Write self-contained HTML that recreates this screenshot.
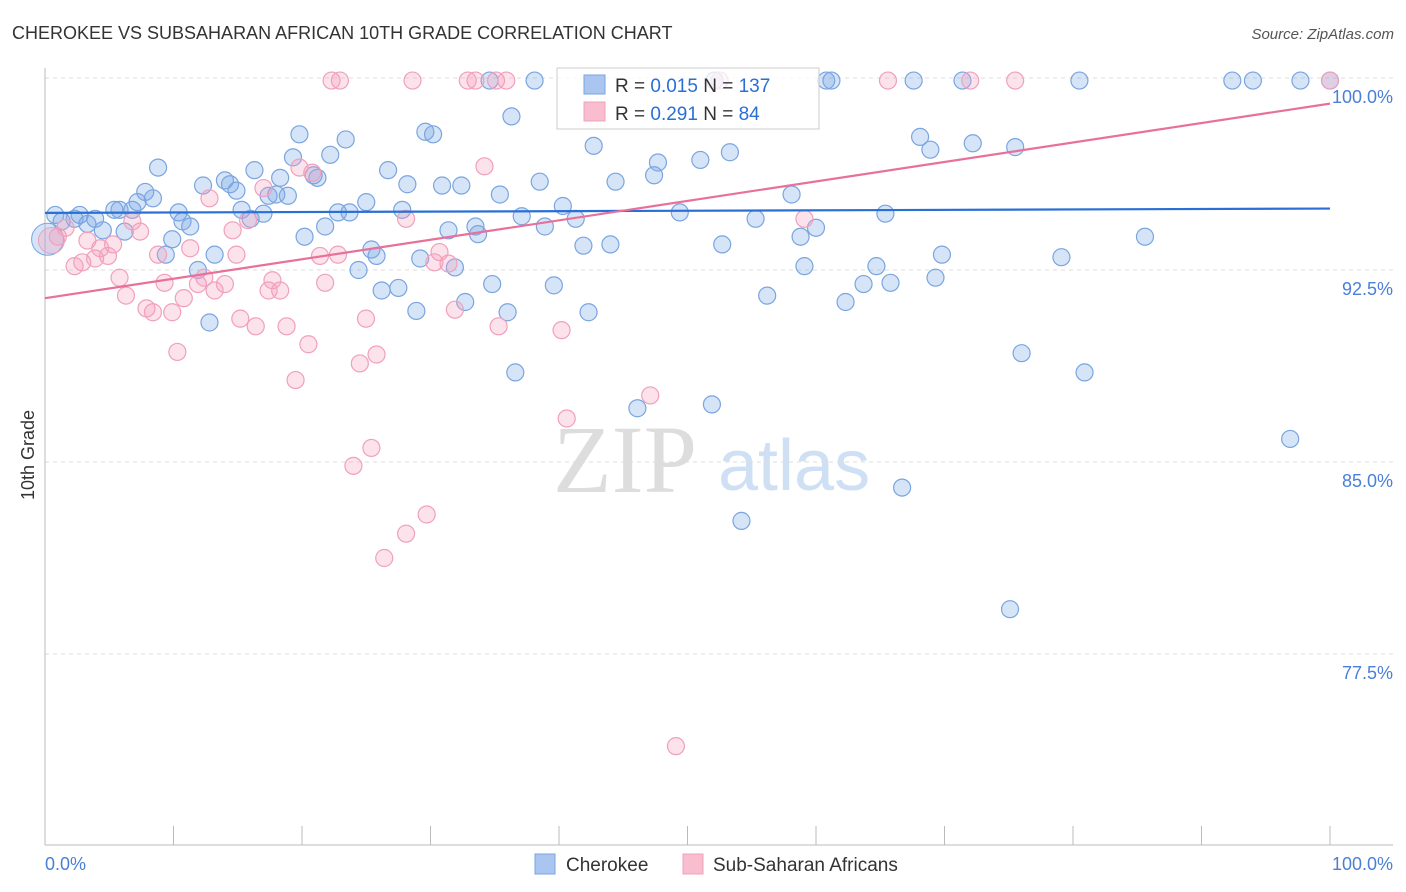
<!DOCTYPE html>
<html><head><meta charset="utf-8"><style>
body{margin:0;background:#fff;font-family:"Liberation Sans",sans-serif;}
#wrap{position:relative;width:1406px;height:892px;overflow:hidden;}
</style></head><body>
<div id="wrap">
<svg id="chart" width="1406" height="892" xmlns="http://www.w3.org/2000/svg">
<text x="12" y="39" font-size="18" fill="#333">CHEROKEE VS SUBSAHARAN AFRICAN 10TH GRADE CORRELATION CHART</text>
<text x="1394" y="39" font-size="15" fill="#555" font-style="italic" text-anchor="end">Source: ZipAtlas.com</text>
<text transform="translate(34,455) rotate(-90)" font-size="18" fill="#333" text-anchor="middle">10th Grade</text>
<g><text x="553" y="492" font-size="96" fill="#ddd" font-family="Liberation Serif,serif">ZIP</text><text x="718" y="490" font-size="72" fill="#cfe0f4">atlas</text></g>
<g id="grid"></g><g id="axes"></g><g id="pts"></g><g id="lines"></g>
<g>
<rect x="557" y="68" width="262" height="61" fill="rgba(255,255,255,0.75)" stroke="#ccc"/>
<rect x="584" y="75" width="21" height="19" fill="#a9c5f0" stroke="#7aa5e0"/>
<rect x="584" y="102" width="21" height="19" fill="#f8bed0" stroke="#f0a0bc"/>
<text x="615" y="92" font-size="19" fill="#333">R = <tspan fill="#2a6fd6">0.015</tspan>   N = <tspan fill="#2a6fd6">137</tspan></text>
<text x="615" y="120" font-size="19" fill="#333">R =  <tspan fill="#2a6fd6">0.291</tspan>   N =  <tspan fill="#2a6fd6"> 84</tspan></text>
</g>
<g>
<rect x="535" y="854" width="20" height="20" fill="#a9c5f0" stroke="#7aa5e0"/>
<text x="566" y="871" font-size="19" fill="#333">Cherokee</text>
<rect x="683" y="854" width="20" height="20" fill="#f8bed0" stroke="#f0a0bc"/>
<text x="713" y="871" font-size="19" fill="#333">Sub-Saharan Africans</text>
</g>
</svg>
</div>
<script>
const blueX=[0.8,1.3,2.3,2.7,3.3,3.9,4.5,5.4,5.8,6.2,6.8,7.2,7.8,8.4,8.8,9.4,9.9,10.4,10.7,11.3,11.9,12.3,12.8,13.2,14.0,14.4,14.9,15.3,16.0,16.3,17.0,17.4,18.0,18.3,18.9,19.3,19.8,20.2,20.9,21.2,21.8,22.2,22.8,23.4,23.7,24.4,25.0,25.4,25.8,26.2,26.7,27.5,27.8,28.2,28.9,29.2,29.6,30.2,30.9,31.4,31.9,32.4,32.7,33.5,33.7,34.6,34.8,35.4,36.0,36.3,36.6,37.1,38.1,38.5,38.9,39.6,40.3,41.3,41.9,42.3,42.7,44.0,44.4,46.1,47.4,47.7,49.4,51.0,51.9,52.1,52.7,53.3,54.2,55.3,56.2,58.1,58.8,59.1,60.0,60.8,61.2,62.3,63.7,64.7,65.4,65.8,66.7,67.6,68.1,68.9,69.3,69.8,71.4,72.2,75.1,75.5,76.0,79.1,80.5,80.9,85.6,92.4,94.0,96.9,97.7,100];
const blueY=[94.65,94.4,94.5,94.65,94.3,94.5,94.05,94.85,94.85,94.0,94.85,95.15,95.55,95.3,96.5,93.1,93.7,94.75,94.4,94.2,92.5,95.8,90.45,93.1,96.0,95.85,95.6,94.85,94.5,96.4,94.7,95.4,95.45,96.1,95.4,96.9,97.8,93.8,96.2,96.1,94.2,97.0,94.75,97.6,94.75,92.5,95.15,93.3,93.05,91.7,96.4,91.8,94.85,95.85,90.9,92.95,97.9,97.8,95.8,94.05,92.6,95.8,91.25,94.2,93.9,99.9,91.95,95.45,90.85,98.5,88.5,94.6,99.9,95.95,94.2,91.9,95.0,94.5,93.45,90.85,97.35,93.5,95.95,87.1,96.2,96.7,94.75,96.8,87.25,99.9,93.5,97.1,82.7,94.5,91.5,95.45,93.8,92.65,94.15,99.9,99.9,91.25,91.95,92.65,94.7,92.0,84.0,99.9,97.7,97.2,92.2,93.1,99.9,97.45,79.25,97.3,89.25,93.0,99.9,88.5,93.8,99.9,99.9,85.9,99.9,99.9];
const pinkX=[1.0,1.6,2.3,2.9,3.3,3.9,4.3,4.9,5.3,5.8,6.3,6.8,7.4,7.9,8.4,8.8,9.3,9.9,10.3,10.8,11.3,11.9,12.4,12.8,13.2,14.0,14.6,14.9,15.2,15.8,16.4,17.0,17.4,17.7,18.3,18.8,19.5,19.8,20.5,20.8,21.4,21.8,22.3,22.95,22.8,24.0,24.5,24.98,25.4,25.8,26.4,28.1,28.1,28.6,29.7,30.3,30.7,31.4,31.9,32.9,33.5,34.2,35.1,35.3,35.9,40.2,40.6,47.1,49.1,52.5,59.1,65.6,72.0,75.5,100];
const pinkY=[93.8,94.15,92.65,92.8,93.65,92.95,93.35,93.05,93.5,92.2,91.5,94.4,94.0,91.0,90.85,93.1,92.0,90.85,89.3,91.4,93.35,91.95,92.2,95.3,91.7,91.95,94.05,93.1,90.6,94.45,90.3,95.7,91.7,92.1,91.7,90.3,88.2,96.5,89.6,96.3,93.05,92.0,99.9,99.9,93.1,84.85,88.85,90.6,85.55,89.2,81.25,82.2,94.5,99.9,82.95,92.8,93.2,92.75,90.95,99.9,99.9,96.55,99.9,90.3,99.9,90.15,86.7,87.6,73.9,99.9,94.5,99.9,99.9,99.9,99.9];
const blueTrend=[94.73,94.9];
const pinkTrend=[91.4,99.0];
const yTicks=[100,92.5,85,77.5];
const yTickLabels=["100.0%","92.5%","85.0%","77.5%"];
const NS="http://www.w3.org/2000/svg";
const X0=45,X1=1330,YT=78,PPU=25.6;
const sx=v=>X0+(X1-X0)*v/100;
const sy=v=>YT+(100-v)*PPU;
function mk(tag,attrs,parent){const e=document.createElementNS(NS,tag);for(const k in attrs)e.setAttribute(k,attrs[k]);parent.appendChild(e);return e;}
const grid=document.getElementById('grid'),axes=document.getElementById('axes'),pts=document.getElementById('pts'),lines=document.getElementById('lines');
yTicks.forEach((t,i)=>{
 const l=mk('line',{x1:X0,x2:1393,y1:sy(t),y2:sy(t),stroke:'#ddd','stroke-dasharray':'4,4'},grid);
 
 
 const tx=mk('text',{x:1393,y:sy(t)+25,'font-size':18,fill:'#4a7fd8','text-anchor':'end'},grid);
 tx.textContent=yTickLabels[i];
 
 
});
const xa=mk('line',{x1:X0,x2:1393,y1:845,y2:845,stroke:'#bbb'},axes);


const ya=mk('line',{x1:X0,x2:X0,y1:68,y2:845,stroke:'#bbb'},axes);


for(let i=0;i<=10;i++){const t=mk('line',{x1:sx(i*10),x2:sx(i*10),y1:826,y2:845,stroke:'#bbb'},axes);
 
 }
const xl=mk('text',{x:45,y:870,'font-size':18,fill:'#4a7fd8'},axes);xl.textContent='0.0%';


const xr=mk('text',{x:1393,y:870,'font-size':18,fill:'#4a7fd8','text-anchor':'end'},axes);xr.textContent='100.0%';


const big1=mk('circle',{cx:sx(0.2),cy:sy(93.7),r:16,fill:'rgba(120,165,230,0.3)',stroke:'#7aa5e0'},pts);


blueX.forEach((x,i)=>{const c=mk('circle',{cx:sx(x),cy:sy(blueY[i]),r:8.5,fill:'rgba(120,165,230,0.3)',stroke:'#7aa5e0','stroke-width':1.2},pts);
 
 });
const big2=mk('circle',{cx:sx(0.5),cy:sy(93.65),r:13,fill:'rgba(245,160,190,0.3)',stroke:'#f0a0bc'},pts);


pinkX.forEach((x,i)=>{const c=mk('circle',{cx:sx(x),cy:sy(pinkY[i]),r:8.5,fill:'rgba(245,160,190,0.3)',stroke:'#f0a0bc','stroke-width':1.2},pts);
 
 });
const bl=mk('line',{x1:sx(0),x2:sx(100),y1:sy(blueTrend[0]),y2:sy(blueTrend[1]),stroke:'#2a6fd6','stroke-width':2.2},lines);


const pl=mk('line',{x1:sx(0),x2:sx(100),y1:sy(pinkTrend[0]),y2:sy(pinkTrend[1]),stroke:'#e8709a','stroke-width':2.2},lines);


</script>
</body></html>
